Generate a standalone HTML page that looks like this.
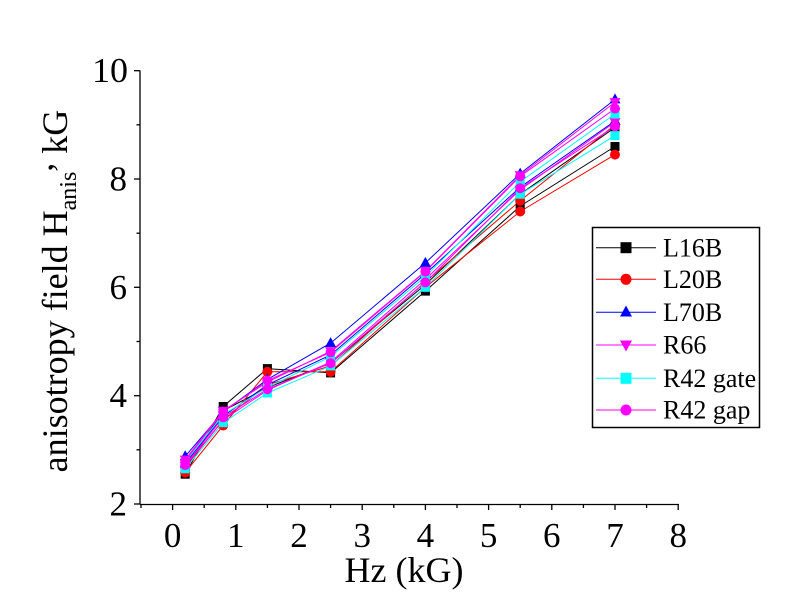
<!DOCTYPE html>
<html><head><meta charset="utf-8"><style>
html,body{margin:0;padding:0;background:#fff;}
svg{display:block;}
text{font-family:"Liberation Serif","Times New Roman",serif;fill:#000;}
</style></head><body>
<svg width="790" height="605" viewBox="0 0 790 605" xmlns="http://www.w3.org/2000/svg">
<defs>
<rect id="sq" x="-4.5" y="-4.5" width="9" height="9"/>
<circle id="ci" cx="0" cy="0" r="5"/>
<polygon id="tu" points="0,-6 5.5,4 -5.5,4"/>
<polygon id="td" points="0,6 5.5,-4 -5.5,-4"/>
</defs>
<rect width="790" height="605" fill="#fff"/>

<!-- axes -->
<g stroke="#000" stroke-width="1.3" fill="none">
<line x1="140" y1="70.5" x2="140" y2="504.5"/>
<line x1="140" y1="504.5" x2="679" y2="504.5"/>
<!-- y major ticks -->
<line x1="134" y1="70.7" x2="140" y2="70.7"/>
<line x1="134" y1="179" x2="140" y2="179"/>
<line x1="134" y1="287.3" x2="140" y2="287.3"/>
<line x1="134" y1="395.7" x2="140" y2="395.7"/>
<line x1="134" y1="504" x2="140" y2="504"/>
<!-- y minor ticks -->
<line x1="136.5" y1="124.8" x2="140" y2="124.8"/>
<line x1="136.5" y1="233.2" x2="140" y2="233.2"/>
<line x1="136.5" y1="341.5" x2="140" y2="341.5"/>
<line x1="136.5" y1="449.8" x2="140" y2="449.8"/>
<!-- x major ticks -->
<line x1="172.6" y1="504.5" x2="172.6" y2="510"/>
<line x1="235.8" y1="504.5" x2="235.8" y2="510"/>
<line x1="299" y1="504.5" x2="299" y2="510"/>
<line x1="362.2" y1="504.5" x2="362.2" y2="510"/>
<line x1="425.4" y1="504.5" x2="425.4" y2="510"/>
<line x1="488.6" y1="504.5" x2="488.6" y2="510"/>
<line x1="551.8" y1="504.5" x2="551.8" y2="510"/>
<line x1="615" y1="504.5" x2="615" y2="510"/>
<line x1="678.2" y1="504.5" x2="678.2" y2="510"/>
<!-- x minor ticks -->
<line x1="141" y1="504.5" x2="141" y2="508"/>
<line x1="204.2" y1="504.5" x2="204.2" y2="508"/>
<line x1="267.4" y1="504.5" x2="267.4" y2="508"/>
<line x1="330.6" y1="504.5" x2="330.6" y2="508"/>
<line x1="393.8" y1="504.5" x2="393.8" y2="508"/>
<line x1="457" y1="504.5" x2="457" y2="508"/>
<line x1="520.2" y1="504.5" x2="520.2" y2="508"/>
<line x1="583.4" y1="504.5" x2="583.4" y2="508"/>
<line x1="646.6" y1="504.5" x2="646.6" y2="508"/>
</g>

<!-- y tick labels -->
<g font-size="35" text-anchor="end">
<text x="128" y="82" textLength="36" lengthAdjust="spacingAndGlyphs">10</text>
<text x="127" y="190.5">8</text>
<text x="127" y="298.8">6</text>
<text x="127" y="407.2">4</text>
<text x="127" y="515.5">2</text>
</g>
<!-- x tick labels -->
<g font-size="35" text-anchor="middle">
<text x="172.6" y="547">0</text>
<text x="235.8" y="547">1</text>
<text x="299" y="547">2</text>
<text x="362.2" y="547">3</text>
<text x="425.4" y="547">4</text>
<text x="488.6" y="547">5</text>
<text x="551.8" y="547">6</text>
<text x="615" y="547">7</text>
<text x="678.2" y="547">8</text>
</g>

<!-- axis titles -->
<text x="404" y="582" font-size="36" text-anchor="middle">Hz (kG)</text>
<text transform="translate(67,291) rotate(-90)" font-size="36" text-anchor="middle">anisotropy field H<tspan font-size="24" dy="9">anis</tspan><tspan dy="-24">,</tspan><tspan dy="15"> kG</tspan></text>

<!-- series lines -->
<g fill="none" stroke-width="1">
<polyline stroke="#000" points="185.2,474.2 223.2,406.5 267.4,368.6 330.6,372.9 425.4,291.1 520.2,206.1 615,146.5"/>
<polyline stroke="#000" points="185.2,468.8 223.2,410.8 267.4,387.5 330.6,363.2 425.4,284.6 520.2,194.2 615,127.5"/>
<polyline stroke="#f00" points="185.2,472.6 223.2,425.5 267.4,371.8 330.6,371.8 425.4,287.3 520.2,211.5 615,154.6"/>
<polyline stroke="#f00" points="185.2,467.2 223.2,420 267.4,384.8 330.6,365.9 425.4,281.9 520.2,200.7 615,124.8"/>
<polyline stroke="#00f" points="185.2,456.3 223.2,411.9 267.4,379.4 330.6,343.1 425.4,262.9 520.2,173.6 615,99.4"/>
<polyline stroke="#00f" points="185.2,463.4 223.2,416.2 267.4,384.8 330.6,355 425.4,273.8 520.2,187.1 615,121"/>
<polyline stroke="#f0f" points="185.2,459.6 223.2,410.8 267.4,382.1 330.6,351.2 425.4,271.1 520.2,175.2 615,102.1"/>
<polyline stroke="#f0f" points="185.2,466.1 223.2,420 267.4,390.2 330.6,362.1 425.4,279.2 520.2,189.8 615,122.1"/>
<polyline stroke="#0ff" points="185.2,461.8 223.2,414.6 267.4,387.5 330.6,356.7 425.4,276.5 520.2,181.7 615,114"/>
<polyline stroke="#0ff" points="185.2,468.8 223.2,422.7 267.4,393 330.6,365.9 425.4,287.3 520.2,194.2 615,135.6"/>
<polyline stroke="#f0f" points="185.2,460.7 223.2,411.9 267.4,380.5 330.6,352.3 425.4,271.6 520.2,176.3 615,108.6"/>
<polyline stroke="#f0f" points="185.2,465 223.2,417.3 267.4,389.2 330.6,363.2 425.4,282.4 520.2,188.2 615,126.4"/>
</g>

<!-- markers -->
<g fill="#000">
<use href="#sq" x="185.2" y="474.2"/><use href="#sq" x="223.2" y="406.5"/><use href="#sq" x="267.4" y="368.6"/><use href="#sq" x="330.6" y="372.9"/><use href="#sq" x="425.4" y="291.1"/><use href="#sq" x="520.2" y="206.1"/><use href="#sq" x="615" y="146.5"/>
<use href="#sq" x="185.2" y="468.8"/><use href="#sq" x="223.2" y="410.8"/><use href="#sq" x="267.4" y="387.5"/><use href="#sq" x="330.6" y="363.2"/><use href="#sq" x="425.4" y="284.6"/><use href="#sq" x="520.2" y="194.2"/><use href="#sq" x="615" y="127.5"/>
</g>
<g fill="#f00">
<use href="#ci" x="185.2" y="472.6"/><use href="#ci" x="223.2" y="425.5"/><use href="#ci" x="267.4" y="371.8"/><use href="#ci" x="330.6" y="371.8"/><use href="#ci" x="425.4" y="287.3"/><use href="#ci" x="520.2" y="211.5"/><use href="#ci" x="615" y="154.6"/>
<use href="#ci" x="185.2" y="467.2"/><use href="#ci" x="223.2" y="420"/><use href="#ci" x="267.4" y="384.8"/><use href="#ci" x="330.6" y="365.9"/><use href="#ci" x="425.4" y="281.9"/><use href="#ci" x="520.2" y="200.7"/><use href="#ci" x="615" y="124.8"/>
</g>
<g fill="#00f">
<use href="#tu" x="185.2" y="456.3"/><use href="#tu" x="223.2" y="411.9"/><use href="#tu" x="267.4" y="379.4"/><use href="#tu" x="330.6" y="343.1"/><use href="#tu" x="425.4" y="262.9"/><use href="#tu" x="520.2" y="173.6"/><use href="#tu" x="615" y="99.4"/>
<use href="#tu" x="185.2" y="463.4"/><use href="#tu" x="223.2" y="416.2"/><use href="#tu" x="267.4" y="384.8"/><use href="#tu" x="330.6" y="355"/><use href="#tu" x="425.4" y="273.8"/><use href="#tu" x="520.2" y="187.1"/><use href="#tu" x="615" y="121"/>
</g>
<g fill="#f0f">
<use href="#td" x="185.2" y="459.6"/><use href="#td" x="223.2" y="410.8"/><use href="#td" x="267.4" y="382.1"/><use href="#td" x="330.6" y="351.2"/><use href="#td" x="425.4" y="271.1"/><use href="#td" x="520.2" y="175.2"/><use href="#td" x="615" y="102.1"/>
<use href="#td" x="185.2" y="466.1"/><use href="#td" x="223.2" y="420"/><use href="#td" x="267.4" y="390.2"/><use href="#td" x="330.6" y="362.1"/><use href="#td" x="425.4" y="279.2"/><use href="#td" x="520.2" y="189.8"/><use href="#td" x="615" y="122.1"/>
</g>
<g fill="#0ff">
<use href="#sq" x="185.2" y="461.8"/><use href="#sq" x="223.2" y="414.6"/><use href="#sq" x="267.4" y="387.5"/><use href="#sq" x="330.6" y="356.7"/><use href="#sq" x="425.4" y="276.5"/><use href="#sq" x="520.2" y="181.7"/><use href="#sq" x="615" y="114"/>
<use href="#sq" x="185.2" y="468.8"/><use href="#sq" x="223.2" y="422.7"/><use href="#sq" x="267.4" y="393"/><use href="#sq" x="330.6" y="365.9"/><use href="#sq" x="425.4" y="287.3"/><use href="#sq" x="520.2" y="194.2"/><use href="#sq" x="615" y="135.6"/>
</g>
<g fill="#f0f">
<use href="#ci" x="185.2" y="460.7"/><use href="#ci" x="223.2" y="411.9"/><use href="#ci" x="267.4" y="380.5"/><use href="#ci" x="330.6" y="352.3"/><use href="#ci" x="425.4" y="271.6"/><use href="#ci" x="520.2" y="176.3"/><use href="#ci" x="615" y="108.6"/>
<use href="#ci" x="185.2" y="465"/><use href="#ci" x="223.2" y="417.3"/><use href="#ci" x="267.4" y="389.2"/><use href="#ci" x="330.6" y="363.2"/><use href="#ci" x="425.4" y="282.4"/><use href="#ci" x="520.2" y="188.2"/><use href="#ci" x="615" y="126.4"/>
</g>

<!-- legend -->
<rect x="592.5" y="227.5" width="167" height="200" fill="#fff" stroke="#000" stroke-width="1.5"/>
<g stroke-width="1">
<line x1="596" y1="247.7" x2="656" y2="247.7" stroke="#000"/>
<line x1="596" y1="279.3" x2="656" y2="279.3" stroke="#f00"/>
<line x1="596" y1="312.3" x2="656" y2="312.3" stroke="#00f"/>
<line x1="596" y1="345" x2="656" y2="345" stroke="#f0f"/>
<line x1="596" y1="378.3" x2="656" y2="378.3" stroke="#0ff"/>
<line x1="596" y1="410" x2="656" y2="410" stroke="#f0f"/>
</g>
<use href="#sq" x="626" y="247.7" fill="#000" transform="translate(-313 -123.85) scale(1.5 1.5)" style="display:none"/>
<rect x="620.5" y="242.2" width="11" height="11" fill="#000"/>
<circle cx="626" cy="279.3" r="5.5" fill="#f00"/>
<polygon points="626,305.5 632,316.5 620,316.5" fill="#00f"/>
<polygon points="626,351.5 632,340.5 620,340.5" fill="#f0f"/>
<rect x="620.5" y="372.8" width="11" height="11" fill="#0ff"/>
<circle cx="626" cy="410" r="5.5" fill="#f0f"/>
<g font-size="26">
<text x="663" y="256.5">L16B</text>
<text x="663" y="288">L20B</text>
<text x="663" y="321">L70B</text>
<text x="663" y="353.7">R66</text>
<text x="663" y="387">R42 gate</text>
<text x="663" y="418.7">R42 gap</text>
</g>
</svg>
</body></html>
